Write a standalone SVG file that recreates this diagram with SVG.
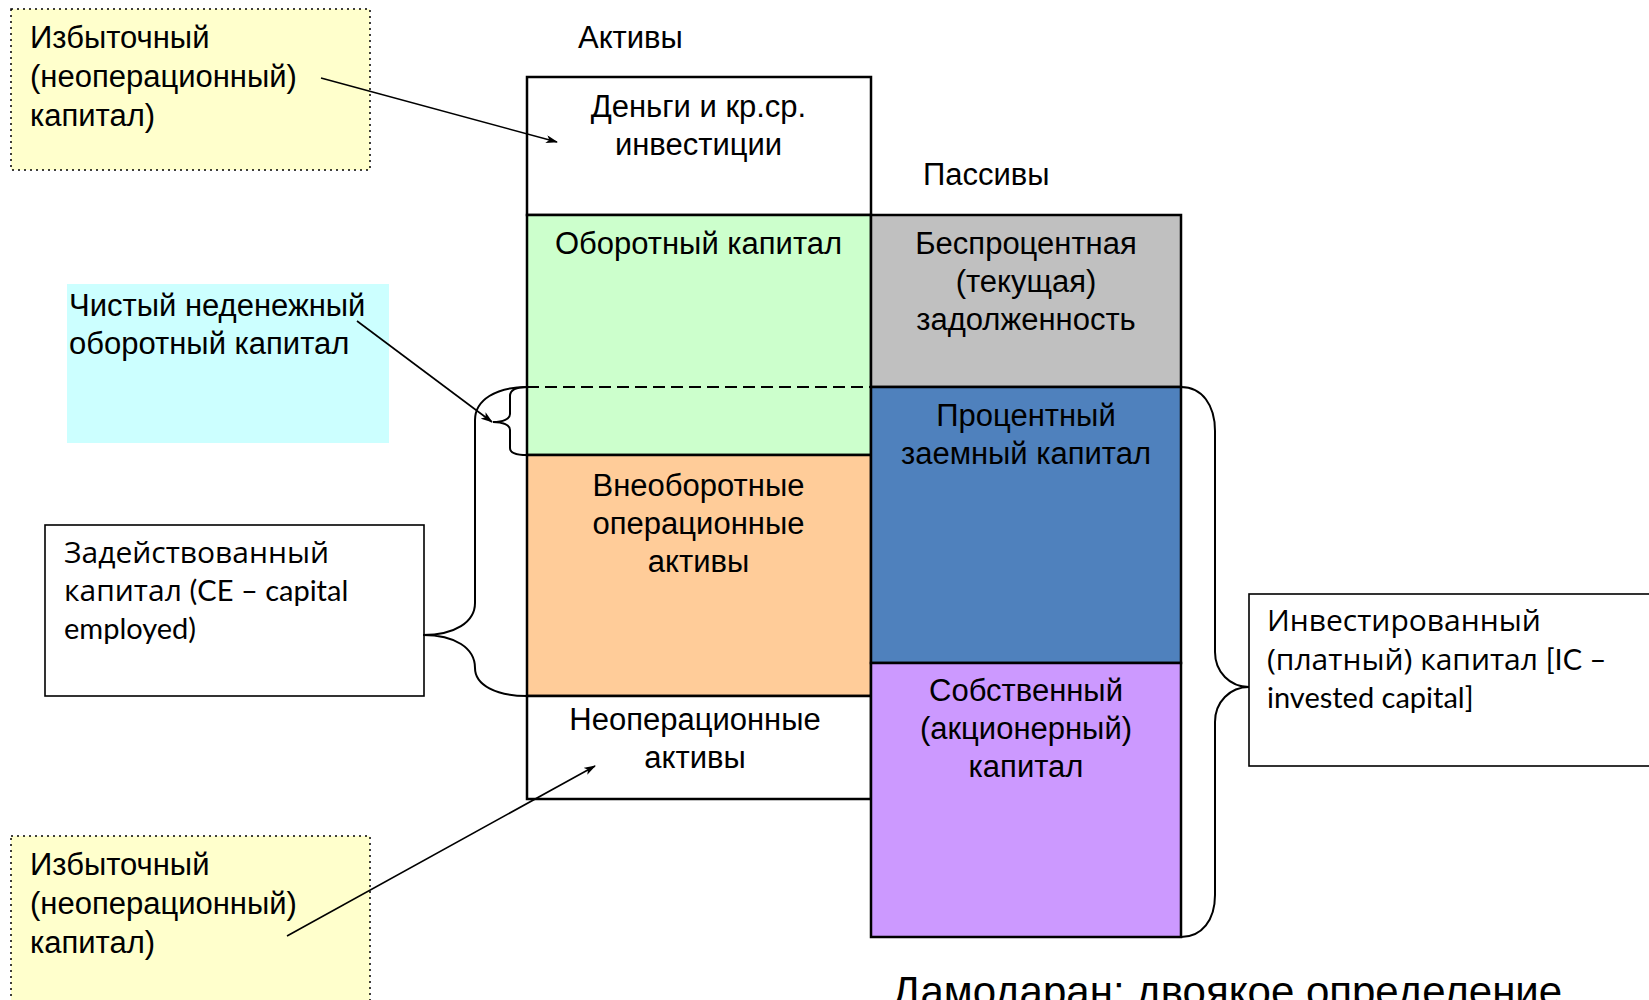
<svg xmlns="http://www.w3.org/2000/svg" width="1649" height="1000" viewBox="0 0 1649 1000">
<defs>
<marker id="arr" viewBox="0 0 12 8" refX="11" refY="4" markerWidth="12" markerHeight="8" markerUnits="userSpaceOnUse" orient="auto">
<path d="M0,0 L12,4 L0,8 L3,4 z" fill="#000"/>
</marker>
<style>
.t{font-family:"Liberation Sans",Arial,sans-serif;font-size:31px;fill:#000}
.c{text-anchor:middle}
.cal{font-family:Lato,"Open Sans",sans-serif;font-size:29px;fill:#000}
.cy{font-family:"Open Sans","DejaVu Sans",sans-serif;font-size:30px}
.col{stroke:#000;stroke-width:2.5}
.note{stroke:#000;stroke-width:1.5;stroke-dasharray:2 4}
.ln{fill:none;stroke:#000;stroke-width:1.6}
.br{fill:none;stroke:#000;stroke-width:2}
</style>
</defs>
<rect width="1649" height="1000" fill="#fff"/>

<g id="label-assets"><text class="t" x="578" y="48">Активы</text></g>
<g id="label-liabilities"><text class="t" x="923" y="185">Пассивы</text></g>

<g id="cash">
<rect class="col" x="527" y="77" width="344" height="138" fill="#fff"/>
<text class="t c" x="698.5" y="117">Деньги и кр.ср.</text>
<text class="t c" x="698.5" y="155">инвестиции</text>
</g>
<g id="working-capital">
<rect class="col" x="527" y="215" width="344" height="240" fill="#CCFFCC"/>
<line x1="527" y1="387" x2="871" y2="387" stroke="#000" stroke-width="1.8" stroke-dasharray="12 6"/>
<text class="t c" x="698.5" y="254">Оборотный капитал</text>
</g>
<g id="noncurrent">
<rect class="col" x="527" y="455" width="344" height="241" fill="#FFCC99"/>
<text class="t c" x="698.5" y="496">Внеоборотные</text>
<text class="t c" x="698.5" y="534">операционные</text>
<text class="t c" x="698.5" y="572">активы</text>
</g>
<g id="nonoperating">
<rect class="col" x="527" y="696" width="344" height="103" fill="#fff"/>
<text class="t c" x="695" y="730">Неоперационные</text>
<text class="t c" x="695" y="768">активы</text>
</g>

<g id="non-interest">
<rect class="col" x="871" y="215" width="310" height="172" fill="#C0C0C0"/>
<text class="t c" x="1026" y="254">Беспроцентная</text>
<text class="t c" x="1026" y="292">(текущая)</text>
<text class="t c" x="1026" y="330">задолженность</text>
</g>
<g id="interest-debt">
<rect class="col" x="871" y="387" width="310" height="276" fill="#4F81BD"/>
<text class="t c" x="1026" y="426">Процентный</text>
<text class="t c" x="1026" y="464">заемный капитал</text>
</g>
<g id="equity">
<rect class="col" x="871" y="663" width="310" height="274" fill="#CC99FF"/>
<text class="t c" x="1026" y="701">Собственный</text>
<text class="t c" x="1026" y="739">(акционерный)</text>
<text class="t c" x="1026" y="777">капитал</text>
</g>

<g id="excess-top">
<rect class="note" x="11" y="9" width="359" height="161" fill="#FFFFCC"/>
<text class="t" x="30" y="48">Избыточный</text>
<text class="t" x="30" y="87">(неоперационный)</text>
<text class="t" x="30" y="126">капитал)</text>
</g>
<g id="nwc-note">
<rect x="67" y="284" width="322" height="159" fill="#CCFFFF"/>
<text class="t" x="69" y="316">Чистый неденежный</text>
<text class="t" x="69" y="354">оборотный капитал</text>
</g>
<g id="ce-box">
<rect x="45" y="525" width="379" height="171" fill="#fff" stroke="#000" stroke-width="1.6"/>
<text class="cal" x="64" y="563"><tspan class="cy">Задействованный</tspan></text>
<text class="cal" x="64" y="601"><tspan class="cy">капитал </tspan>(CE – capital</text>
<text class="cal" x="64" y="639">employed)</text>
</g>
<g id="ic-box">
<rect x="1249" y="594" width="410" height="172" fill="#fff" stroke="#000" stroke-width="1.6"/>
<text class="cal" x="1267" y="631"><tspan class="cy">Инвестированный</tspan></text>
<text class="cal" x="1267" y="670"><tspan class="cy">(платный) капитал </tspan>[IC –</text>
<text class="cal" x="1267" y="708">invested capital]</text>
</g>
<g id="excess-bottom">
<rect class="note" x="11" y="836" width="359" height="180" fill="#FFFFCC"/>
<text class="t" x="30" y="875">Избыточный</text>
<text class="t" x="30" y="914">(неоперационный)</text>
<text class="t" x="30" y="953">капитал)</text>
</g>

<g id="caption"><text class="t" x="892" y="1006" style="font-size:42px">Дамодаран: двоякое определение</text></g>

<g id="connectors">
<line class="ln" x1="321" y1="78" x2="557" y2="142" marker-end="url(#arr)"/>
<line class="ln" x1="357" y1="321" x2="492" y2="422" marker-end="url(#arr)"/>
<line class="ln" x1="287" y1="936" x2="595" y2="766" marker-end="url(#arr)"/>
<path class="br" d="M527 387 C496 387 475 400 475 420 L475 603 C475 622 455 635 423 635 C455 635 475 648 475 668 C475 685 496 696 527 696"/>
<path class="br" d="M527 387 C515 387 510 390 510 396 L510 414 C510 419 503 422 493 422 C503 422 510 425 510 430 L510 448 C510 453 515 455 527 455"/>
<path class="br" d="M1181 387 C1202 387 1215 405 1215 431 L1215 652 C1215 672 1230 687 1249 687 C1230 687 1215 702 1215 722 L1215 895 C1215 920 1202 937 1181 937"/>
</g>
</svg>
